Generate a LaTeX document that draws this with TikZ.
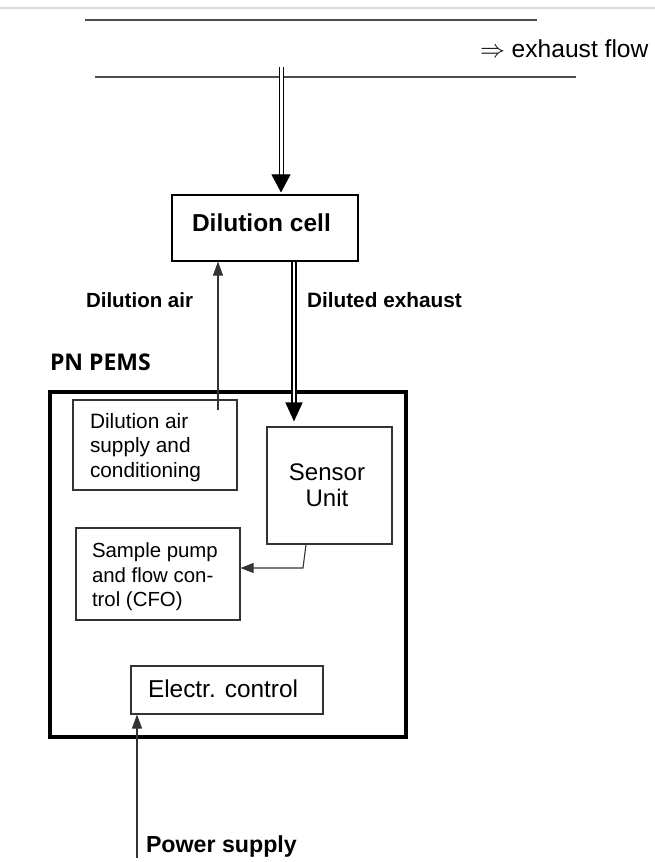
\documentclass[tikz,border=0pt]{standalone}
\usepackage{fontspec}
\setmainfont{Liberation Sans}
\newfontfamily\pemsfont{Open Sans}
\usetikzlibrary{arrows.meta}
\begin{document}
\begin{tikzpicture}[x=1pt,y=-1pt,
  pipe/.style={draw=black!70, line width=1.5pt},
  thinbox/.style={draw=black!80, line width=1.1pt, rectangle, inner sep=0pt},
  outerbox/.style={draw=black, line width=4pt, rectangle, inner sep=0pt},
  txt/.style={inner sep=0pt, outer sep=0pt},
  dblA/.style={draw=black, double=white, line width=1pt, double distance=3pt, -{Triangle[width=19pt,length=18pt]}},
  dblB/.style={draw=black, double=white, line width=1.5pt, double distance=2.5pt, -{Triangle[width=17pt,length=19pt]}},
  thinarrow/.style={draw=black!80, line width=1.1pt, -{Triangle[width=10pt,length=14pt]}}
]
\useasboundingbox (0,0) rectangle (655,862);
% faint top border
\draw[black!15, line width=1.5pt] (0,8) -- (655,8);
% exhaust pipe
\draw[pipe] (85,20) -- (537,20);
\draw[pipe] (95,77) -- (576,77);
\node[txt, anchor=base west, font=\fontsize{24.6}{28}\selectfont] (flow) at (480,57) {$\Rightarrow$ exhaust flow};

% boxes
\node[thinbox, draw=black, minimum width=186pt, minimum height=66pt] (dc) at (265,228) {};
\node[outerbox, minimum width=356pt, minimum height=345pt] (pems) at (227.5,564.5) {};
\node[thinbox, minimum width=164pt, minimum height=90pt] (das) at (155,445) {};
\node[thinbox, minimum width=125pt, minimum height=117pt] (su) at (329.5,485.5) {};
\node[thinbox, minimum width=164pt, minimum height=92pt] (sp) at (158,574) {};
\node[thinbox, minimum width=192pt, minimum height=48pt] (ec) at (227,690) {};

% texts
\node[txt, anchor=base west, font=\bfseries\fontsize{24.5}{30}\selectfont] (dct) at (192,231) {Dilution cell};
\node[txt, anchor=base west, font=\bfseries\fontsize{20.5}{24}\selectfont] (dal) at (86,307) {Dilution air};
\node[txt, anchor=base west, font=\bfseries\fontsize{20.8}{24}\selectfont] (del) at (307,307) {Diluted exhaust};
\node[txt, anchor=base west, font=\pemsfont\bfseries\fontsize{23}{27}\selectfont] (pemsl) at (50,370) {PN PEMS};
\node[txt, anchor=north west, align=left, font=\fontsize{20.8}{24.5}\selectfont] (dast) at (90,413) {Dilution air\\supply and\\conditioning};
\node[txt, anchor=north, align=center, font=\fontsize{24}{26}\selectfont] (sut) at (327,464) {Sensor\\Unit};
\node[txt, anchor=north west, align=left, font=\fontsize{20.4}{24.5}\selectfont] (spt) at (92,543) {Sample pump\\and flow con-\\trol (CFO)};
\node[txt, anchor=base west, font=\fontsize{24.4}{28}\selectfont] (ect) at (148,697) {Electr. control};
\node[txt, anchor=base west, font=\bfseries\fontsize{23.2}{27}\selectfont] (pwl) at (146,852) {Power supply};

% connectors
\coordinate (exsrc) at (281,67);
\draw[dblA, shorten >=2pt] (exsrc) -- (exsrc |- dc.north);
\coordinate (dasrc) at (218,410);
\draw[thinarrow] (dasrc) -- (dasrc |- dc.south);
\draw[dblB, shorten >=5pt] ([xshift=29pt]dc.south) -- ([xshift=29pt]dc.south |- su.north);
\coordinate (bend) at (303,568);
\draw[thinarrow, -{Triangle[width=10pt,length=13pt]}] ([xshift=-23.5pt]su.south) -- (bend) -- (bend -| sp.east);
\coordinate (pwsrc) at (137,858);
\draw[thinarrow] (pwsrc) -- (pwsrc |- ec.south);
\end{tikzpicture}
\end{document}
